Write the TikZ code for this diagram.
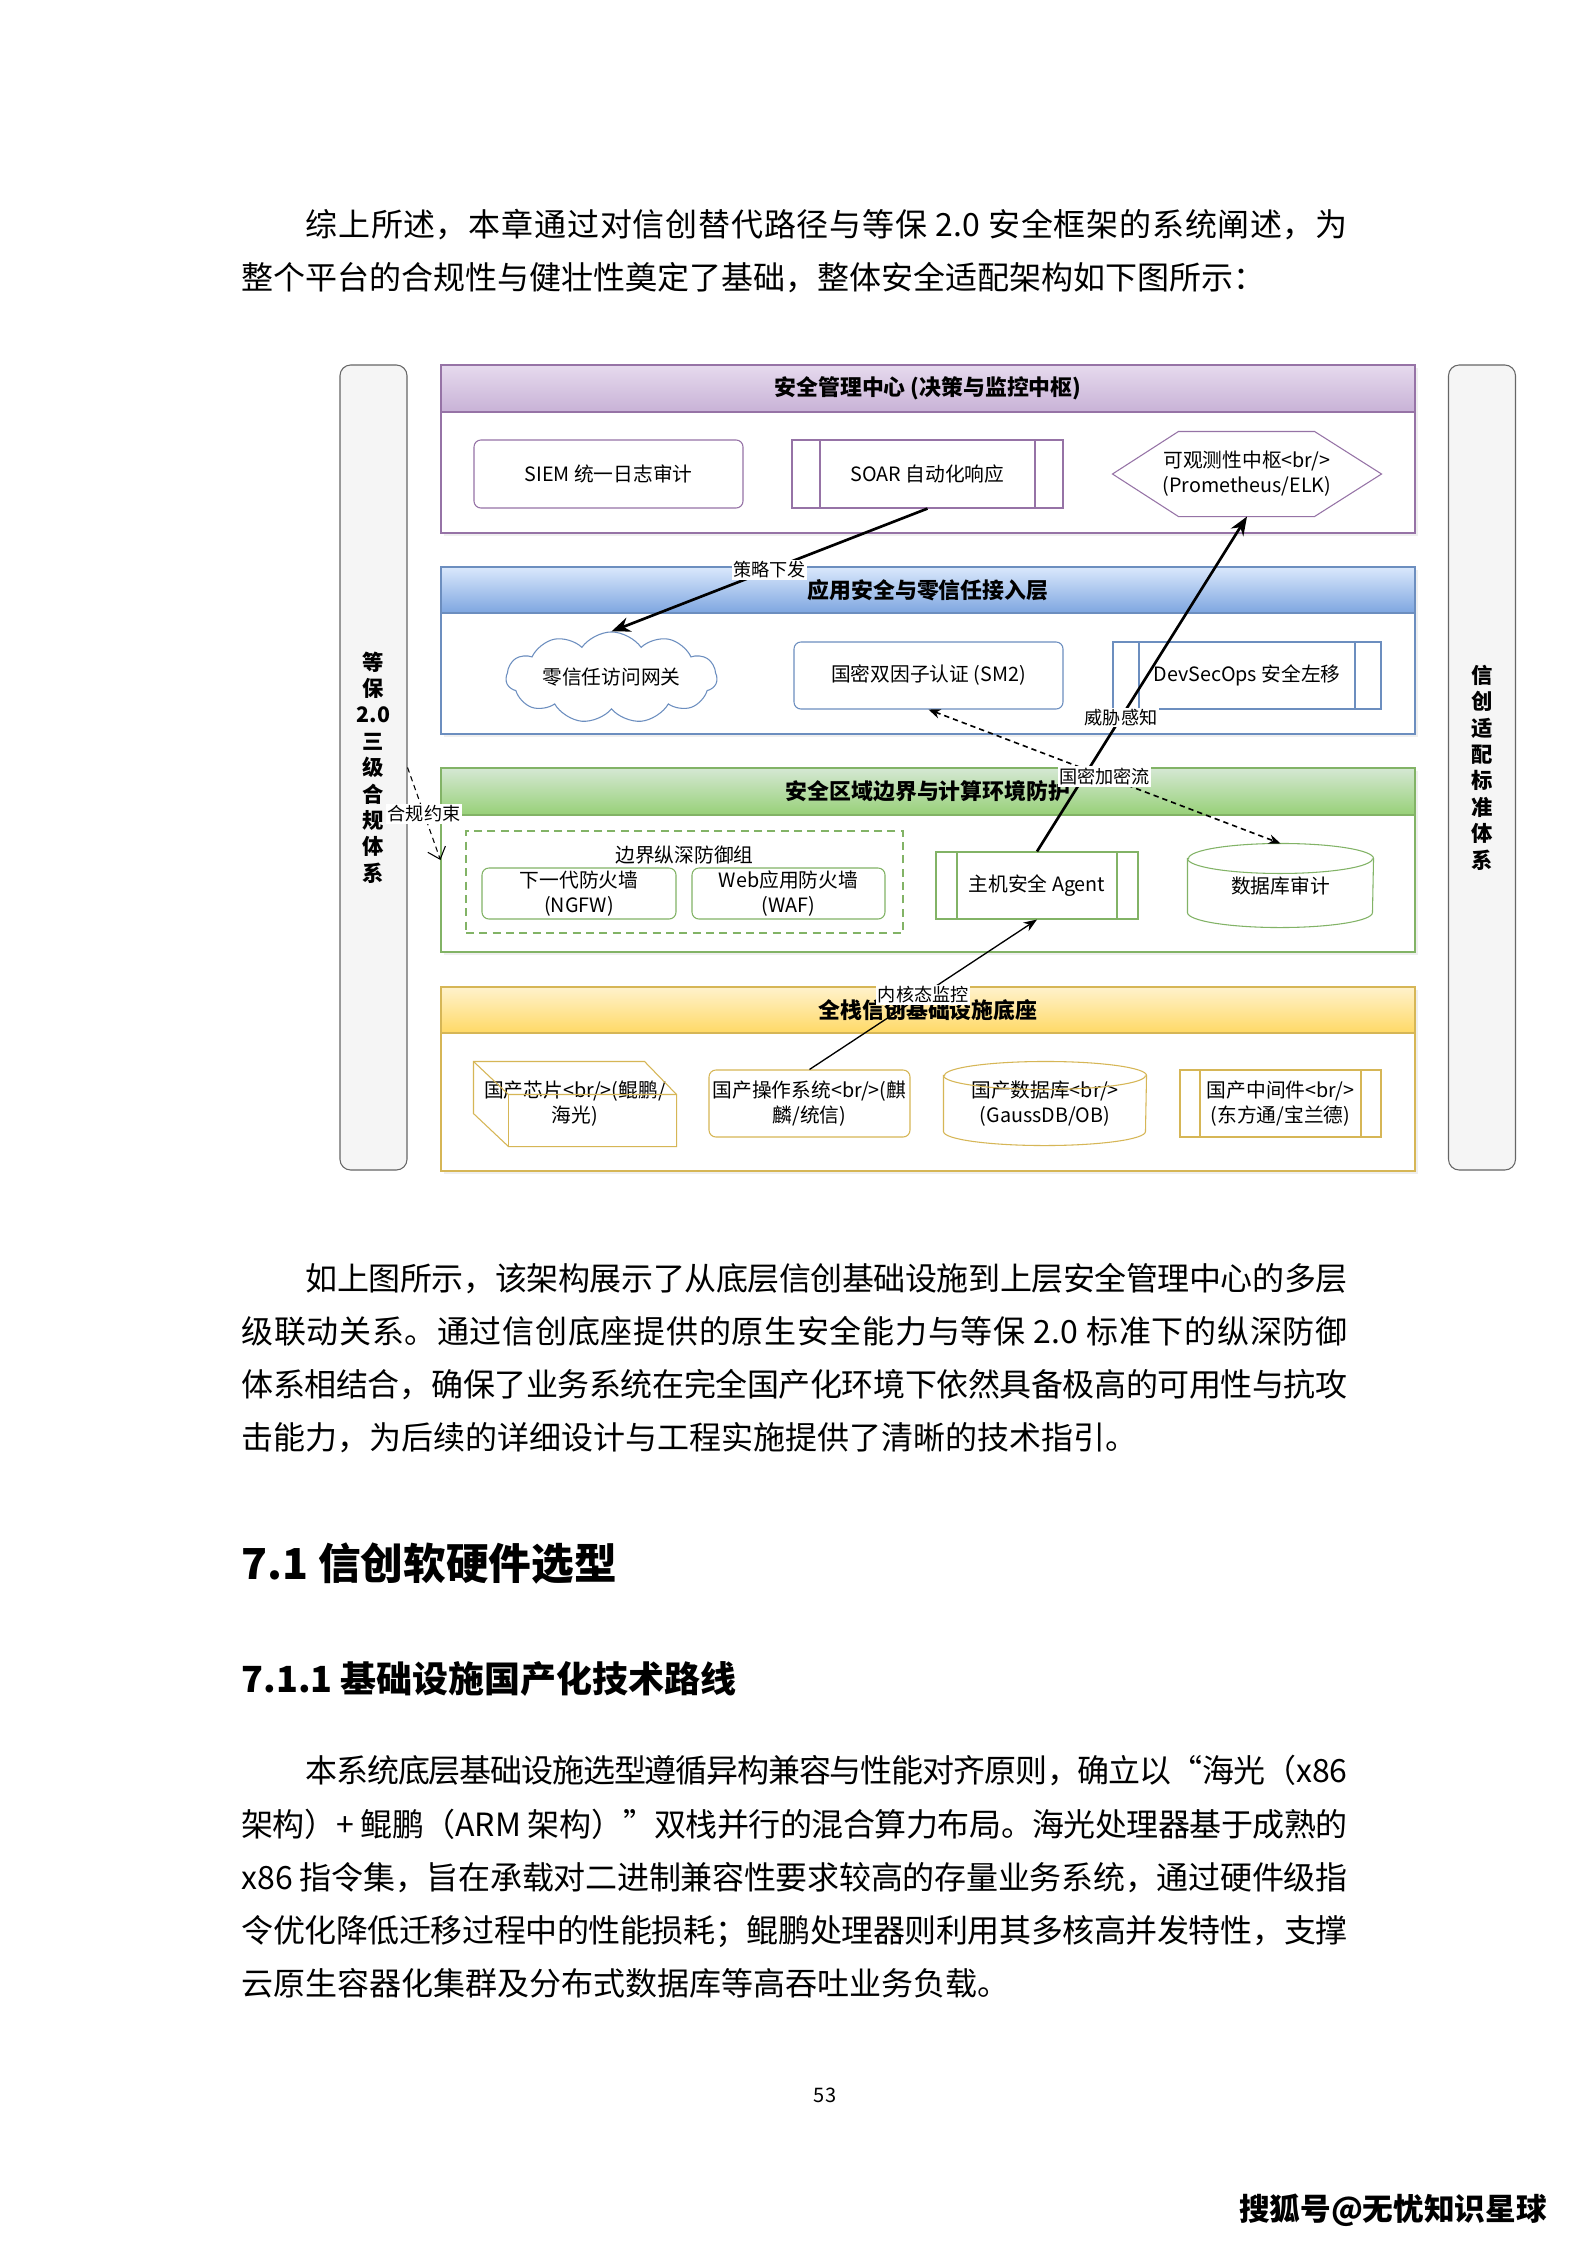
\documentclass[tikz,border=0pt]{standalone}
\usepackage{fontspec}
\setmainfont{Noto Sans CJK SC}
\XeTeXlinebreaklocale "zh"
\XeTeXlinebreakskip=0pt plus 1pt minus 0.6pt
\usepackage{tikz}
\usetikzlibrary{
  arrows.meta,
  positioning,
  shapes.symbols,
  calc,
  shadows
}

\definecolor{mgmtline}{HTML}{9673A6}
\definecolor{mgmttop}{HTML}{E6DAEE}
\definecolor{mgmtbot}{HTML}{C8B2D6}
\definecolor{appline}{HTML}{6C8EBF}
\definecolor{apptop}{HTML}{DAE8FC}
\definecolor{appbot}{HTML}{7EA6E0}
\definecolor{zoneline}{HTML}{82B366}
\definecolor{zonetop}{HTML}{D5E8D4}
\definecolor{zonebot}{HTML}{97D077}
\definecolor{baseedge}{HTML}{D6B656}
\definecolor{basetop}{HTML}{FFF2CC}
\definecolor{basebot}{HTML}{FFD966}
\definecolor{sideline}{HTML}{666666}
\definecolor{sidefill}{HTML}{F5F5F5}

\newdimen\px \px=0.375pt
\newcommand\headfont{\fontsize{8.2pt}{9pt}\selectfont\bfseries}
\newcommand\boxfont{\fontsize{7.4pt}{9.4pt}\selectfont}
\newcommand\tagfont{\fontsize{6.8pt}{7pt}\selectfont}
\newcommand\sidefont{\fontsize{8pt}{9.9pt}\selectfont\bfseries}
\newcommand\bodyfont{\fontsize{12pt}{19.9pt}\selectfont}

% cylinder outline round a plain node: name, colour, half width, ellipse radius
\newcommand\dbcyl[4]{%
  \draw[#2] ([yshift=-#4\px]#1.north west) -- ([yshift=#4\px]#1.south west)
    arc[start angle=180, end angle=360, x radius=#3\px, y radius=#4\px]
    -- ([yshift=-#4\px]#1.north east)
    arc[start angle=0, end angle=180, x radius=#3\px, y radius=#4\px] -- cycle;
  \draw[#2] ([yshift=-#4\px]#1.north west)
    arc[start angle=180, end angle=360, x radius=#3\px, y radius=#4\px];}

\tikzset{
  bodypar/.style={anchor=north west, text width=1106\px, align=justify,
    inner sep=0pt, font=\bodyfont},
  sidebar/.style={draw=sideline, fill=sidefill, rounded corners=4pt,
    minimum width=67\px, minimum height=805\px, align=center, font=\sidefont},
  layerbody/.style={draw=#1, fill=white, minimum width=974\px, inner sep=0pt,
    drop shadow={opacity=0.12, shadow xshift=1.2pt, shadow yshift=-1.2pt}},
  layerhead/.style n args={3}{draw=#1, top color=#2, bottom color=#3,
    minimum width=974\px, minimum height=47\px, inner sep=0pt, font=\headfont},
  roundbox/.style={draw=#1, fill=white, rounded corners=2.6pt, align=center,
    inner sep=0pt, font=\boxfont},
  procbox/.style 2 args={draw=#1, fill=white, align=center, inner sep=0pt,
    font=\boxfont,
    path picture={
      \draw[#1] ([xshift=#2]path picture bounding box.north west)
        -- ([xshift=#2]path picture bounding box.south west);
      \draw[#1] ([xshift=-#2]path picture bounding box.north east)
        -- ([xshift=-#2]path picture bounding box.south east);}},
  plainbox/.style={align=center, inner sep=0pt, font=\boxfont},
  tag/.style={fill=white, inner sep=0.6pt, font=\tagfont},
  thickflow/.style={line width=1pt, -{Stealth[length=7pt, width=5.5pt]}},
  thinflow/.style={line width=0.5pt, -{Stealth[length=5pt, width=3.8pt]}},
  cryptoflow/.style={line width=0.6pt, dash pattern=on 2pt off 1.5pt,
    {Stealth[length=4.5pt, width=3.6pt]}-{Stealth[length=4.5pt, width=3.6pt]}},
  ruleflow/.style={line width=0.4pt, dash pattern=on 2pt off 1.5pt,
    -{Straight Barb[length=4pt, width=7pt]}}
}

\begin{document}
\begin{tikzpicture}[x=0.375pt, y=0.375pt]
\fill[white] (0,0) rectangle (1587,-2245);
\useasboundingbox (0,0) rectangle (1587,-2245);

% page text
\node[bodypar] (parSummary) at (241,-209)
  {\hspace*{2em}综上所述，本章通过对信创替代路径与等保 2.0 安全框架的系统阐述，为\linebreak
   整个平台的合规性与健壮性奠定了基础，整体安全适配架构如下图所示：};
\node[bodypar] (parLinkage) at (241,-1263)
  {\hspace*{2em}如上图所示，该架构展示了从底层信创基础设施到上层安全管理中心的多层\linebreak
   级联动关系。通过信创底座提供的原生安全能力与等保 2.0 标准下的纵深防御\linebreak
   体系相结合，确保了业务系统在完全国产化环境下依然具备极高的可用性与抗攻\linebreak
   击能力，为后续的详细设计与工程实施提供了清晰的技术指引。};
\node[anchor=west, inner sep=0pt, font=\fontsize{16pt}{16pt}\selectfont\bfseries]
  (secSelect) at (241,-1564) {7.1 信创软硬件选型};
\node[anchor=west, inner sep=0pt, font=\fontsize{13.5pt}{14pt}\selectfont\bfseries]
  (secRoute) at (241,-1679) {7.1.1 基础设施国产化技术路线};
\node[bodypar] (parRoute) at (241,-1755)
  {\hspace*{2em}本系统底层基础设施选型遵循异构兼容与性能对齐原则，确立以“海光（x86\linebreak
   架构）+ 鲲鹏（ARM 架构）”双栈并行的混合算力布局。海光处理器基于成熟的\linebreak
   x86 指令集，旨在承载对二进制兼容性要求较高的存量业务系统，通过硬件级指\linebreak
   令优化降低迁移过程中的性能损耗；鲲鹏处理器则利用其多核高并发特性，支撑\linebreak
   云原生容器化集群及分布式数据库等高吞吐业务负载。};
\node[font=\fontsize{7.5pt}{8pt}\selectfont] (pageNo) at (825,-2095) {53};
\node[font=\fontsize{11.5pt}{12pt}\selectfont\bfseries] (sohuMark) at (1393,-2210)
  {搜狐号@无忧知识星球};

% compliance bars
\node[sidebar] (lbar) at (373.5,-767.5) {等\\保\\2.0\\三\\级\\合\\规\\体\\系};
\node[sidebar] (rbar) at (1482,-767.5) {信\\创\\适\\配\\标\\准\\体\\系};

% layers
\node[layerbody=mgmtline, minimum height=168\px] (mgmt) at (928,-449) {};
\node[layerhead={mgmtline}{mgmttop}{mgmtbot}, anchor=north] (mgmtHead) at (mgmt.north)
  {安全管理中心 (决策与监控中枢)};
\node[layerbody=appline, minimum height=167\px] (app) at (928,-650.5) {};
\node[layerhead={appline}{apptop}{appbot}, anchor=north, minimum height=46\px]
  (appHead) at (app.north) {应用安全与零信任接入层};
\node[layerbody=zoneline, minimum height=184\px] (zone) at (928,-860) {};
\node[layerhead={zoneline}{zonetop}{zonebot}, anchor=north] (zoneHead) at (zone.north)
  {安全区域边界与计算环境防护};
\node[layerbody=baseedge, minimum height=184\px] (base) at (928,-1079) {};
\node[layerhead={baseedge}{basetop}{basebot}, anchor=north, minimum height=46\px]
  (baseHead) at (base.north) {全栈信创基础设施底座};

% management centre
\node[roundbox=mgmtline, minimum width=269\px, minimum height=68\px] (siem)
  at (608.5,-474) {SIEM 统一日志审计};
\node[procbox={mgmtline}{28\px}, minimum width=271\px, minimum height=68\px] (soar)
  at (927.5,-474) {SOAR 自动化响应};
\node[plainbox, minimum width=268\px, minimum height=84\px] (hexhub)
  at (1247,-474) {可观测性中枢<br/>\\(Prometheus/ELK)};
\draw[mgmtline] (hexhub.west) -- ([xshift=66\px]hexhub.north west)
  -- ([xshift=-67\px]hexhub.north east) -- (hexhub.east)
  -- ([xshift=-67\px]hexhub.south east) -- ([xshift=66\px]hexhub.south west) -- cycle;

% access layer
\node[cloud, cloud puffs=11, cloud puff arc=110, aspect=3, draw=appline, fill=white,
  minimum width=211\px, minimum height=71\px, inner sep=0pt, font=\boxfont] (cloud)
  at (611.5,-677.5) {零信任访问网关};
\node[roundbox=appline, minimum width=269\px, minimum height=67\px] (sm2)
  at (928.5,-675.5) {国密双因子认证 (SM2)};
\node[procbox={appline}{26\px}, minimum width=268\px, minimum height=67\px] (devsec)
  at (1247,-675.5) {DevSecOps 安全左移};

% boundary layer
\node[draw=zoneline, dash pattern=on 3pt off 2pt, minimum width=437\px,
  minimum height=102\px, inner sep=0pt,
  label={[anchor=north, inner sep=0pt, yshift=-15\px, font=\boxfont]north:边界纵深防御组}]
  (group) at (684.5,-882) {};
\node[roundbox=zoneline, minimum width=194\px, minimum height=51\px] (ngfw)
  at (579,-893.5) {下一代防火墙\\(NGFW)};
\node[roundbox=zoneline, minimum width=193\px, minimum height=51\px] (waf)
  at (788.5,-893.5) {Web应用防火墙\\(WAF)};
\node[procbox={zoneline}{21\px}, minimum width=202\px, minimum height=67\px] (agent)
  at (1037,-885.5) {主机安全 Agent};
\node[plainbox, minimum width=185\px, minimum height=83\px] (dbaudit)
  at (1280.5,-885.5) {数据库审计};
\dbcyl{dbaudit}{zoneline}{92.5}{15}

% infrastructure layer
\node[plainbox, minimum width=202\px, minimum height=84\px] (chip)
  at (575,-1104) {国产芯片<br/>(鲲鹏/\\海光)};
\draw[baseedge] (chip.north west) -- ([xshift=-32\px]chip.north east)
  -- ([yshift=-33\px]chip.north east) -- (chip.south east)
  -- ([xshift=35\px]chip.south west) -- ([yshift=33\px]chip.south west) -- cycle;
\draw[baseedge] (chip.north west) -- ([xshift=35\px, yshift=-33\px]chip.north west)
  -- ([yshift=-33\px]chip.north east);
\draw[baseedge] ([xshift=35\px, yshift=-33\px]chip.north west)
  -- ([xshift=35\px]chip.south west);
\node[roundbox=baseedge, minimum width=201\px, minimum height=67\px] (os)
  at (809.5,-1103.5) {国产操作系统<br/>(麒\\麟/统信)};
\node[plainbox, minimum width=202\px, minimum height=83\px] (cndb)
  at (1045,-1103.5) {国产数据库<br/>\\(GaussDB/OB)};
\dbcyl{cndb}{baseedge}{101}{14}
\node[procbox={baseedge}{20\px}, minimum width=201\px, minimum height=67\px] (mw)
  at (1280.5,-1103.5) {国产中间件<br/>\\(东方通/宝兰德)};

% flows
\draw[thickflow] (soar.south) -- node[tag] {策略下发} (cloud.north);
\draw[thickflow] (agent.north) -- node[tag, pos=0.4] {威胁感知} (hexhub.south);
\draw[thinflow] (os.north) -- node[tag] {内核态监控} (agent.south);
\draw[cryptoflow] (sm2.south) -- node[tag] {国密加密流} (dbaudit.north);
\draw[ruleflow] (lbar.east |- zone.north) -- node[tag] {合规约束} (zone.west);
\end{tikzpicture}
\end{document}
